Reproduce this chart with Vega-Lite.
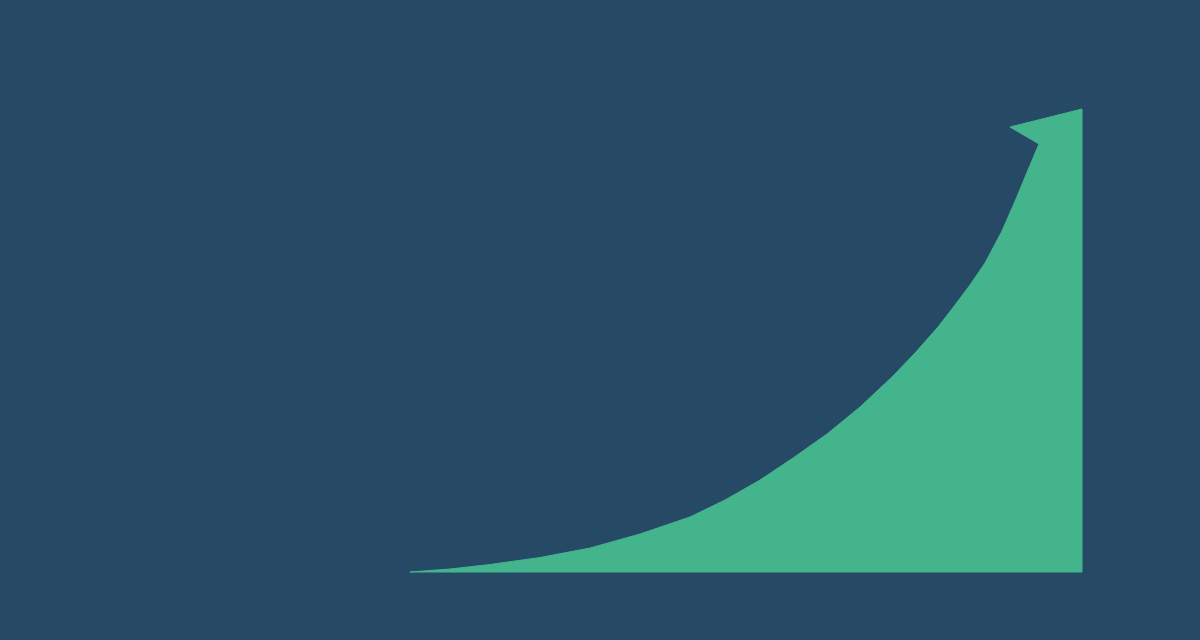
{
  "$schema": "https://vega.github.io/schema/vega-lite/v6.json",
  "width": 1200,
  "height": 640,
  "autosize": {"type": "fit", "contains": "padding"},
  "padding": 0,
  "background": "#264966",
  "config": {"view": {"stroke": null}},
  "data": {
    "values": [
      {"order": 1, "x": 410, "y": 572},
      {"order": 2, "x": 450, "y": 569},
      {"order": 3, "x": 490, "y": 564.5},
      {"order": 4, "x": 540, "y": 557.5},
      {"order": 5, "x": 590, "y": 548},
      {"order": 6, "x": 640, "y": 534},
      {"order": 7, "x": 690, "y": 517},
      {"order": 8, "x": 725, "y": 500},
      {"order": 9, "x": 760, "y": 480},
      {"order": 10, "x": 793, "y": 458},
      {"order": 11, "x": 827, "y": 434},
      {"order": 12, "x": 860, "y": 407},
      {"order": 13, "x": 893, "y": 376},
      {"order": 14, "x": 915, "y": 353},
      {"order": 15, "x": 938, "y": 327},
      {"order": 16, "x": 955, "y": 305},
      {"order": 17, "x": 970, "y": 285},
      {"order": 18, "x": 985, "y": 263},
      {"order": 19, "x": 1002, "y": 231},
      {"order": 20, "x": 1016, "y": 199},
      {"order": 21, "x": 1028, "y": 170},
      {"order": 22, "x": 1039, "y": 144},
      {"order": 23, "x": 1010, "y": 127},
      {"order": 24, "x": 1082, "y": 109},
      {"order": 25, "x": 1082, "y": 572},
      {"order": 26, "x": 410, "y": 572}
    ]
  },
  "mark": {
    "type": "line",
    "interpolate": "linear",
    "fill": "#44b48d",
    "stroke": "#44b48d",
    "strokeWidth": 1
  },
  "encoding": {
    "x": {"field": "x", "type": "quantitative", "axis": null,
          "scale": {"domain": [0, 1200], "nice": false, "zero": false}},
    "y": {"field": "y", "type": "quantitative", "axis": null,
          "scale": {"domain": [0, 640], "nice": false, "zero": false, "reverse": true}},
    "order": {"field": "order", "type": "quantitative"}
  }
}
